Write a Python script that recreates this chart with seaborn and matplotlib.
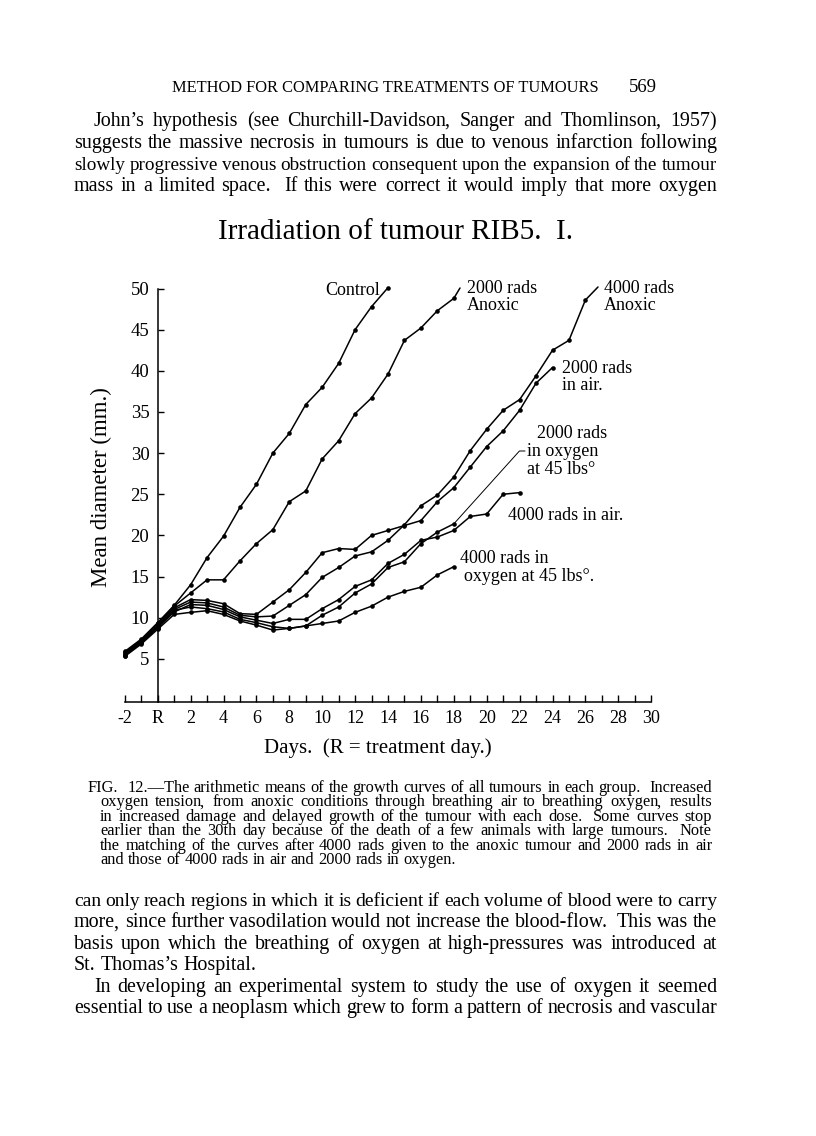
import matplotlib
matplotlib.use("Agg")
import matplotlib.pyplot as plt
import seaborn as sns
import pandas as pd

# Mean diameter (mm) of each group, one value per day starting at day -2
control = [5.9, 7.4, 9.4, 11.5, 14.0, 17.3, 19.9, 23.4, 26.2, 30.0, 32.4, 35.9,
           38.0, 40.9, 45.0, 47.8, 50.1]
anoxic_2000 = [5.8, 7.3, 9.3, 11.4, 13.0, 14.6, 14.6, 16.9, 19.0, 20.7, 24.1, 25.4,
               29.3, 31.5, 34.8, 36.7, 39.6, 43.7, 45.2, 47.3, 48.8]
anoxic_4000 = [5.6, 7.1, 9.0, 11.0, 11.9, 11.8, 11.3, 10.3, 10.1, 10.2, 11.5, 12.8,
               14.9, 16.1, 17.5, 18.0, 19.4, 21.3, 23.6, 24.9, 27.1, 30.3, 32.9, 35.2,
               36.5, 39.4, 42.5, 43.7, 48.6]
air_2000 = [5.7, 7.2, 9.1, 11.2, 12.2, 12.1, 11.7, 10.5, 10.4, 11.9, 13.4, 15.5,
            17.9, 18.4, 18.3, 20.0, 20.6, 21.2, 21.8, 24.1, 25.8, 28.3, 30.8, 32.7,
            35.2, 38.5, 40.4]
oxygen_2000 = [5.5, 7.0, 8.9, 10.9, 11.3, 11.1, 10.7, 9.8, 9.4, 8.9, 8.7, 9.0,
               10.3, 11.3, 13.0, 14.1, 16.1, 16.8, 19.0, 20.4, 21.4]
air_4000 = [5.4, 6.9, 8.8, 10.7, 11.6, 11.5, 11.0, 10.1, 9.7, 9.3, 9.8, 9.8,
            11.1, 12.2, 13.8, 14.6, 16.6, 17.7, 19.4, 19.8, 20.6, 22.3, 22.6, 25.0, 25.2]
oxygen_4000 = [5.3, 6.8, 8.6, 10.4, 10.65, 10.85, 10.4, 9.6, 9.1, 8.5, 8.7, 9.0,
               9.3, 9.6, 10.65, 11.4, 12.5, 13.2, 13.7, 15.2, 16.2]

x_ticks = list(range(-2, 31, 2))
x_labels = ["-2", "R"] + [str(d) for d in range(2, 31, 2)]
y_ticks = list(range(5, 51, 5))

groups = {
    "Control": control,
    "2000 anoxic": anoxic_2000,
    "4000 anoxic": anoxic_4000,
    "2000 air": air_2000,
    "2000 oxygen": oxygen_2000,
    "4000 air": air_4000,
    "4000 oxygen": oxygen_4000,
}
rows = []
for name, vals in groups.items():
    for i, v in enumerate(vals):
        rows.append({"group": name, "day": -2 + i, "diam": v})
df = pd.DataFrame(rows)

sns.set_style("ticks")
plt.rcParams["font.family"] = ["Liberation Serif", "DejaVu Serif"]
plt.rcParams["text.color"] = "black"

W, H = 816, 1136
fig = plt.figure(figsize=(W / 100, H / 100), dpi=100)
# axes placed in page pixels: day -2 at x=124.8, day 30 at 651.2, 0 mm at y=700, 50 mm at y=288.5
ax = fig.add_axes([124.8 / W, (H - 701.65) / H, 526.4 / W, 413.15 / H])

sns.lineplot(data=df, x="day", y="diam", units="group", estimator=None, sort=False,
             color="black", marker="o", markersize=3.3, markeredgewidth=0,
             linewidth=1.1, legend=False, ax=ax)
for ln in ax.lines:
    ln.set_clip_on(False)

ax.set_xlim(-2, 30)
ax.set_ylim(-0.2, 50)
ax.spines["top"].set_visible(False)
ax.spines["right"].set_visible(False)
ax.spines["left"].set_position(("data", 0))
for s in ("left", "bottom"):
    ax.spines[s].set_color("black")
    ax.spines[s].set_linewidth(1.1)

ax.set_xticks(x_ticks)
ax.set_xticklabels(x_labels)
ax.set_xticks(range(-1, 30, 2), minor=True)
ax.set_yticks(y_ticks)
ax.tick_params(axis="x", which="both", direction="in", length=5, width=1,
               color="black", pad=6, labelsize=13, labelcolor="black")
ax.tick_params(axis="y", direction="in", length=4, width=1, color="black",
               pad=6, labelsize=13.5, labelcolor="black")
ax.set_xlabel("")
ax.set_ylabel("")

lab = dict(fontsize=13, color="black", va="center", clip_on=False)


def dd(px):
    return (px - 157.7) / 16.45


def vv(py):
    return (700 - py) / 8.23


def leader(vals, px, py, lw=1.1, conn="arc3"):
    ax.annotate("", xy=(len(vals) - 3, vals[-1]), xytext=(dd(px), vv(py)),
                arrowprops=dict(arrowstyle="-", lw=lw, color="black",
                                shrinkA=0, shrinkB=0, connectionstyle=conn),
                annotation_clip=False)


ax.text(dd(380), vv(290), "Control", ha="right", **lab)
leader(anoxic_2000, 460, 288)
ax.text(dd(467), vv(297), "2000 rads\nAnoxic", ha="left", linespacing=1.05, **lab)
leader(anoxic_4000, 598, 287)
ax.text(dd(604), vv(297), "4000 rads\nAnoxic", ha="left", linespacing=1.05, **lab)
ax.text(dd(562), vv(377), "2000 rads\nin air.", ha="left", linespacing=1.05, **lab)
ax.text(dd(537), vv(433), "2000 rads", ha="left", **lab)
ax.text(dd(527), vv(451), "in oxygen", ha="left", **lab)
ax.text(dd(527), vv(469), "at 45 lbs\u00b0", ha="left", **lab)
leader(oxygen_2000, 525, 451, lw=0.7, conn="angle,angleA=0,angleB=48,rad=0")
ax.text(dd(508), vv(515), "4000 rads in air.", ha="left", **lab)
ax.text(dd(460), vv(558), "4000 rads in", ha="left", **lab)
ax.text(dd(464), vv(576), "oxygen at 45 lbs\u00b0.", ha="left", **lab)

fig.text(395 / W, 1 - 232 / H, "Irradiation of tumour RIB5.  I.", ha="center",
         va="center", fontsize=21)
fig.text(378 / W, 1 - 748 / H, "Days.  (R = treatment day.)", ha="center",
         va="center", fontsize=15)
fig.text(101 / W, 1 - 487 / H, "Mean diameter (mm.)", ha="center", va="center",
         rotation=90, fontsize=16.5)

# page text around the figure
renderer = fig.canvas.get_renderer()


def width_px(s, size):
    t = fig.text(0, 0, s, fontsize=size)
    w = t.get_window_extent(renderer).width
    t.remove()
    return w


def put_word(w, x, ybase, size):
    # trailing comma drawn on its own so every word keeps the same baseline
    if w.endswith(",") and len(w) > 1:
        stem = w[:-1]
        fig.text(x / W, 1 - ybase / H, stem, fontsize=size, va="baseline", ha="left")
        xc = x + width_px(w, size) - width_px(",", size) - 2.2
        fig.text(xc / W, 1 - ybase / H, ",", fontsize=size, va="baseline", ha="left")
    else:
        fig.text(x / W, 1 - ybase / H, w, fontsize=size, va="baseline", ha="left")


def put_line(s, x0, x1, ybase, size, justify=True):
    words = s.split()
    widths = [width_px(w, size) for w in words]
    if justify:
        # shrink a line a little if it would not fit with sensible gaps
        while sum(widths) + 0.2 * size * 1.389 * (len(words) - 1) > (x1 - x0):
            size -= 0.2
            widths = [width_px(w, size) for w in words]
        weights = [2.0 if w.endswith(".") else 1.0 for w in words[:-1]]
        unit = ((x1 - x0) - sum(widths)) / sum(weights)
    else:
        weights = [1.0] * (len(words) - 1)
        unit = 0.25 * size * 1.389
    x = x0
    for i, w in enumerate(words):
        put_word(w, x, ybase, size)
        if i < len(weights):
            x += widths[i] + unit * weights[i]


fig.text(385 / W, 1 - 92 / H, "METHOD FOR COMPARING TREATMENTS OF TUMOURS",
         ha="center", va="baseline", fontsize=11.8)
fig.text(643 / W, 1 - 92 / H, "569", ha="center", va="baseline", fontsize=13.5)

body = 14.4
top_lines = [
    ("John\u2019s hypothesis (see Churchill-Davidson, Sanger and Thomlinson, 1957)", 94, True),
    ("suggests the massive necrosis in tumours is due to venous infarction following", 74, True),
    ("slowly progressive venous obstruction consequent upon the expansion of the tumour", 74, True),
    ("mass in a limited space. If this were correct it would imply that more oxygen", 74, True),
]
for i, (s, x0, j) in enumerate(top_lines):
    put_line(s, x0, 717, 126 + 21.8 * i, body, j)

cap = 11.8
caption = [
    ("FIG. 12.\u2014The arithmetic means of the growth curves of all tumours in each group. Increased", 88, True),
    ("oxygen tension, from anoxic conditions through breathing air to breathing oxygen, results", 100, True),
    ("in increased damage and delayed growth of the tumour with each dose. Some curves stop", 100, True),
    ("earlier than the 30th day because of the death of a few animals with large tumours. Note", 100, True),
    ("the matching of the curves after 4000 rads given to the anoxic tumour and 2000 rads in air", 100, True),
    ("and those of 4000 rads in air and 2000 rads in oxygen.", 100, False),
]
for i, (s, x0, j) in enumerate(caption):
    put_line(s, x0, 712, 792 + 14.4 * i, cap, j)

bottom_lines = [
    ("can only reach regions in which it is deficient if each volume of blood were to carry", 74, True),
    ("more, since further vasodilation would not increase the blood-flow. This was the", 74, True),
    ("basis upon which the breathing of oxygen at high-pressures was introduced at", 74, True),
    ("St. Thomas\u2019s Hospital.", 74, False),
    ("In developing an experimental system to study the use of oxygen it seemed", 94, True),
    ("essential to use a neoplasm which grew to form a pattern of necrosis and vascular", 74, True),
]
for i, (s, x0, j) in enumerate(bottom_lines):
    put_line(s, x0, 717, 906 + 21.4 * i, body, j)

fig.savefig("out.png", dpi=100, facecolor="white")
